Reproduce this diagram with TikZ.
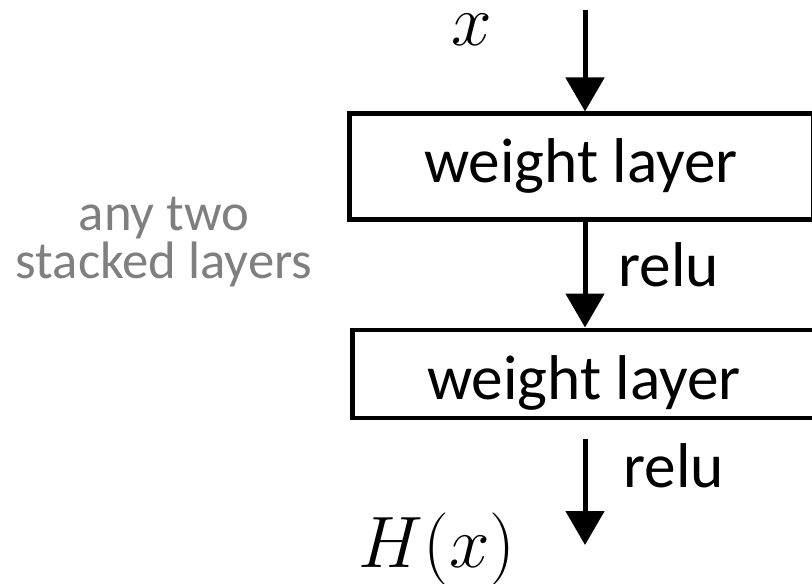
\documentclass[tikz,border=0pt]{standalone}
\usepackage{fontspec}
\setmainfont{Carlito}
\usepackage{tikz}
\usetikzlibrary{positioning,arrows.meta,calc}
\definecolor{notegray}{RGB}{127,127,127}

\begin{document}
\begin{tikzpicture}[
  every node/.style={font=\fontsize{18}{20}\selectfont},
  layer/.style={rectangle, draw=black, line width=1.42pt, minimum width=4.64cm, inner ysep=0pt},
  flow/.style={-{Triangle[width=0.38cm,length=0.34cm]}, line width=1.42pt},
  act/.style={anchor=west, inner sep=0pt},
  var/.style={inner sep=0pt, font=\fontsize{20.5}{22}\selectfont},
  note/.style={align=center, text=notegray, font=\fontsize{15}{11}\selectfont}
]
  \useasboundingbox (0,0) rectangle (8.12,-5.84);

  \node[layer, minimum height=1.06cm, text height=0.5cm, text depth=0.18cm] (w1) at (5.81,-1.67) {weight layer};
  \node[layer, minimum height=0.88cm, text height=0.62cm, text depth=0.10cm] (w2) at (5.84,-3.74) {weight layer};

  \coordinate (in) at (5.85,-0.10);
  \coordinate (outs) at (5.85,-4.39);
  \coordinate (oute) at (5.85,-5.45);

  \draw[flow] (in) -- (in |- w1.north);
  \draw[flow] (w1.south -| in) -- (w2.north -| in);
  \draw[flow] (outs) -- (oute);

  \node[var] (x) at (4.72,-0.30) {$x$};
  \node[act] (r1) at (6.18,-2.645) {relu};
  \node[act] (r2) at (6.23,-4.66) {relu};
  \node[var] (hx) at (4.37,-5.49) {$H(x)$};
  \node[note] (any) at (1.64,-2.42) {any two\\stacked layers};
\end{tikzpicture}
\end{document}
